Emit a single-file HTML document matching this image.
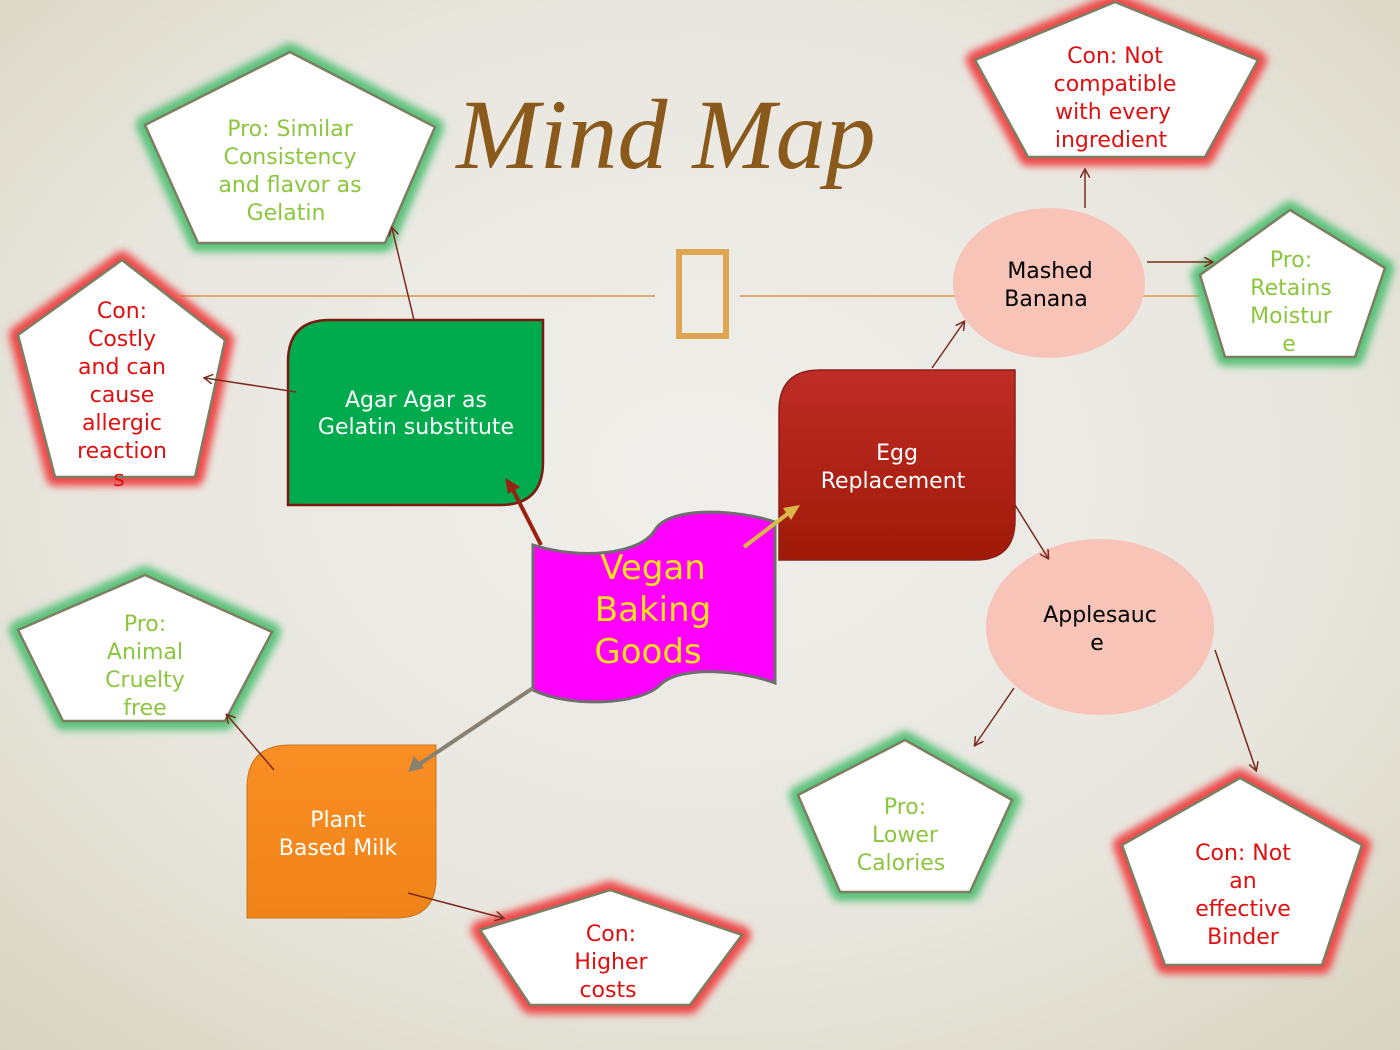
<!DOCTYPE html>
<html><head><meta charset="utf-8"><style>
html,body{margin:0;padding:0;width:1400px;height:1050px;overflow:hidden}
svg{display:block}
text{font-family:"DejaVu Sans","Liberation Sans",sans-serif}
</style></head><body>
<svg width="1400" height="1050" viewBox="0 0 1400 1050" xmlns="http://www.w3.org/2000/svg">
<defs>
<radialGradient id="bg" cx="50%" cy="45%" r="75%">
<stop offset="0" stop-color="#F0EFEB"/><stop offset="0.6" stop-color="#E8E6DE"/><stop offset="1" stop-color="#D8D4C0"/>
</radialGradient>
<filter id="glowG" x="-20%" y="-20%" width="140%" height="140%"><feGaussianBlur stdDeviation="4"/></filter>
<linearGradient id="red" x1="0" y1="0" x2="0" y2="1"><stop offset="0" stop-color="#BE2C26"/><stop offset="1" stop-color="#A01A08"/></linearGradient>
<linearGradient id="org" x1="0" y1="0" x2="0" y2="1"><stop offset="0" stop-color="#F98E24"/><stop offset="1" stop-color="#F08418"/></linearGradient>
<marker id="ah" markerWidth="10" markerHeight="10" refX="8" refY="5" orient="auto" markerUnits="userSpaceOnUse"><path d="M0,0 L9,5 L0,10" fill="none" stroke="#7A2A1E" stroke-width="1.5"/></marker>
</defs>
<rect width="1400" height="1050" fill="url(#bg)"/>
<text x="666" y="168" text-anchor="middle" font-style="italic" font-size="100" fill="#8A5A1C" style="font-family:'Liberation Serif',serif">Mind Map</text>
<line x1="180" y1="296" x2="655" y2="296" stroke="#DDAA70" stroke-width="2"/>
<line x1="740" y1="296" x2="1200" y2="296" stroke="#DDAA70" stroke-width="2"/>
<rect x="679" y="252" width="47" height="84" fill="none" stroke="#E0A550" stroke-width="6"/>

<g filter="url(#glowG)" stroke-width="18" stroke-linejoin="round" fill="none">
<polygon points="290,52 435,127 385,243 198,243 145,125" stroke="#5CC27A"/>
<polygon points="1115,2 1258,60 1205,157 1028,157 975,60" stroke="#EE4A4A"/>
<polygon points="1290,210 1385,268 1355,357 1225,357 1200,275" stroke="#5CC27A"/>
<polygon points="122,260 225,340 195,477 55,477 18,335" stroke="#EE4A4A"/>
<polygon points="145,575 272,632 225,721 63,721 18,630" stroke="#5CC27A"/>
<polygon points="905,740 1012,800 970,892 840,892 798,795" stroke="#5CC27A"/>
<polygon points="1240,778 1362,845 1322,965 1165,965 1122,845" stroke="#EE4A4A"/>
<polygon points="610,890 742,935 690,1005 530,1005 480,930" stroke="#EE4A4A"/>
</g>
<g fill="#fff" stroke="#7E7E62" stroke-width="2.5" stroke-linejoin="round">
<polygon points="290,52 435,127 385,243 198,243 145,125"/>
<polygon points="1115,2 1258,60 1205,157 1028,157 975,60"/>
<polygon points="1290,210 1385,268 1355,357 1225,357 1200,275"/>
<polygon points="122,260 225,340 195,477 55,477 18,335"/>
<polygon points="145,575 272,632 225,721 63,721 18,630"/>
<polygon points="905,740 1012,800 970,892 840,892 798,795"/>
<polygon points="1240,778 1362,845 1322,965 1165,965 1122,845"/>
<polygon points="610,890 742,935 690,1005 530,1005 480,930"/>
</g>

<path d="M330,320 L543,320 L543,462 Q543,505 500,505 L288,505 L288,362 Q288,320 330,320 Z" fill="#00AB4E" stroke="#7A1A10" stroke-width="2.5"/>
<text x="416" y="407" text-anchor="middle" font-size="22" fill="#fff">Agar Agar as</text>
<text x="416" y="434" text-anchor="middle" font-size="22" fill="#fff">Gelatin substitute</text>
<path d="M820,370 L1015,370 L1015,520 Q1015,560 975,560 L779,560 L779,411 Q779,370 820,370 Z" fill="url(#red)" stroke="#8A2018" stroke-width="1.5"/>
<text x="897" y="460" text-anchor="middle" font-size="22" fill="#fff">Egg</text>
<text x="893" y="488" text-anchor="middle" font-size="22" fill="#fff">Replacement</text>
<path d="M290,745 L436,745 L436,878 Q436,918 396,918 L247,918 L247,788 Q247,745 290,745 Z" fill="url(#org)" stroke="#C87420" stroke-width="1"/>
<text x="338" y="827" text-anchor="middle" font-size="22" fill="#fff">Plant</text>
<text x="338" y="855" text-anchor="middle" font-size="22" fill="#fff">Based Milk</text>

<ellipse cx="1049" cy="283" rx="96" ry="75" fill="#F8C4B8"/>
<text x="1050" y="278" text-anchor="middle" font-size="22" fill="#000">Mashed</text>
<text x="1046" y="306" text-anchor="middle" font-size="22" fill="#000">Banana</text>
<ellipse cx="1100" cy="627" rx="114" ry="88" fill="#F8C4B8"/>
<text x="1100" y="622" text-anchor="middle" font-size="22" fill="#000">Applesauc</text>
<text x="1097" y="650" text-anchor="middle" font-size="22" fill="#000">e</text>

<g stroke="#7A2A1E" stroke-width="1.5" fill="none" marker-end="url(#ah)">
<line x1="414" y1="320" x2="392" y2="228"/>
<line x1="296" y1="392" x2="205" y2="378"/>
<line x1="1085" y1="208" x2="1085" y2="170"/>
<line x1="1147" y1="262" x2="1212" y2="262"/>
<line x1="932" y1="368" x2="964" y2="322"/>
<line x1="1015" y1="505" x2="1048" y2="558"/>
<line x1="1014" y1="688" x2="975" y2="745"/>
<line x1="1215" y1="650" x2="1256" y2="770"/>
<line x1="274" y1="770" x2="227" y2="715"/>
<line x1="408" y1="893" x2="503" y2="918"/>
</g>

<path d="M533,545 C580,560 640,555 655,530 C670,505 740,510 775,522 L775,683 C740,670 680,665 660,685 C640,705 570,708 533,690 Z" fill="#FF00FF" stroke="#6E6E6E" stroke-width="3"/>
<text x="653" y="579" text-anchor="middle" font-size="34" fill="#F2E21A">Vegan</text>
<text x="653" y="621" text-anchor="middle" font-size="34" fill="#F2E21A">Baking</text>
<text x="648" y="663" text-anchor="middle" font-size="34" fill="#F2E21A">Goods</text>

<line x1="541" y1="545" x2="512" y2="488" stroke="#9A2012" stroke-width="4"/>
<polygon points="505,478 520,487 508,494" fill="#9A2012"/>
<line x1="744" y1="547" x2="790" y2="512" stroke="#D8B848" stroke-width="4"/>
<polygon points="800,505 791,520 783,508" fill="#D8B848"/>
<line x1="533" y1="688" x2="418" y2="765" stroke="#888070" stroke-width="4"/>
<polygon points="408,772 414,756 424,768" fill="#888070"/>

<g text-anchor="middle" font-size="22">
<g fill="#8CC63E">
<text x="290" y="136">Pro: Similar</text><text x="290" y="164">Consistency</text><text x="290" y="192">and flavor as</text><text x="286" y="220">Gelatin</text>
<text x="1291" y="267">Pro:</text><text x="1291" y="295">Retains</text><text x="1291" y="323">Moistur</text><text x="1289" y="351">e</text>
<text x="145" y="631">Pro:</text><text x="145" y="659">Animal</text><text x="145" y="687">Cruelty</text><text x="145" y="715">free</text>
<text x="905" y="814">Pro:</text><text x="905" y="842">Lower</text><text x="901" y="870">Calories</text>
</g>
<g fill="#E01010">
<text x="1115" y="63">Con: Not</text><text x="1115" y="91">compatible</text><text x="1113" y="119">with every</text><text x="1111" y="147">ingredient</text>
<text x="122" y="318">Con:</text><text x="122" y="346">Costly</text><text x="122" y="374">and can</text><text x="122" y="402">cause</text><text x="122" y="430">allergic</text><text x="122" y="458">reaction</text><text x="119" y="486">s</text>
<text x="1243" y="860">Con: Not</text><text x="1243" y="888">an</text><text x="1243" y="916">effective</text><text x="1243" y="944">Binder</text>
<text x="611" y="941">Con:</text><text x="611" y="969">Higher</text><text x="608" y="997">costs</text>
</g>
</g>
</svg>
</body></html>
